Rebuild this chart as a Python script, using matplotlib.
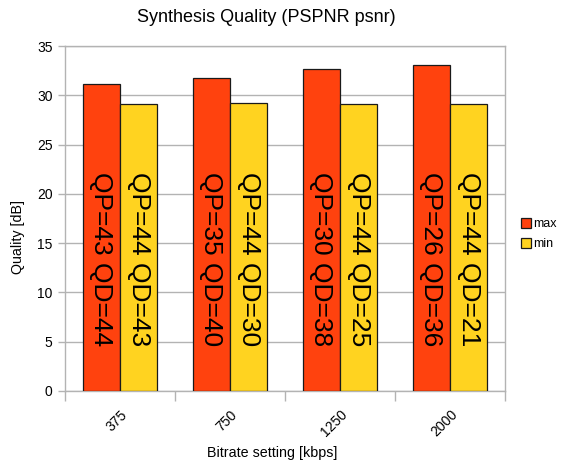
"""Synthesis quality bar chart (PSPNR psnr) per bitrate setting."""

import matplotlib

matplotlib.use("Agg")
import matplotlib.pyplot as plt
import numpy as np

plt.rcParams["font.family"] = ["Liberation Sans", "DejaVu Sans"]

bitrates = ["375", "750", "1250", "2000"]
max_quality = [31.1, 31.8, 32.7, 33.05]
min_quality = [29.1, 29.2, 29.1, 29.1]
max_labels = ["QP=43 QD=44", "QP=35 QD=40", "QP=30 QD=38", "QP=26 QD=36"]
min_labels = ["QP=44 QD=43", "QP=44 QD=30", "QP=44 QD=25", "QP=44 QD=21"]

RED = "#ff420e"
YELLOW = "#ffd320"
GRID = "#b3b3b3"

fig = plt.figure(figsize=(5.67, 4.70), dpi=100)
ax = fig.add_axes([65 / 567, 1 - 391 / 470, 440 / 567, 345 / 470])

x = np.arange(len(bitrates))
width = 0.34
bars_max = ax.bar(x - width / 2, max_quality, width, color=RED,
                  edgecolor="#1a1a1a", linewidth=0.9, label="max", zorder=3)
bars_min = ax.bar(x + width / 2, min_quality, width, color=YELLOW,
                  edgecolor="#1a1a1a", linewidth=0.9, label="min", zorder=3)

for xi, lab in zip(x - width / 2, max_labels):
    ax.text(xi, 13.4, lab, rotation=-90, ha="center", va="center",
            fontsize=19, zorder=4)
for xi, lab in zip(x + width / 2, min_labels):
    ax.text(xi, 13.4, lab, rotation=-90, ha="center", va="center",
            fontsize=19, zorder=4)

ax.set_xlim(-0.5, len(bitrates) - 0.5)
ax.set_ylim(0, 35)
ax.set_yticks(np.arange(0, 36, 5))
ax.yaxis.grid(True, color=GRID, linewidth=1)
ax.set_axisbelow(True)

ax.set_xticks(x)
ax.set_xticklabels(bitrates, rotation=45, ha="right", va="top",
                   rotation_mode="anchor", fontsize=10)
ax.set_xticks(np.arange(-0.5, len(bitrates), 1), minor=True)
ax.tick_params(axis="x", which="major", length=0, pad=12)
ax.tick_params(axis="x", which="minor", length=7, color=GRID, width=1)
ax.tick_params(axis="y", length=5, color=GRID, width=1, labelsize=10, pad=4)

for side in ["left", "right", "bottom", "top"]:
    ax.spines[side].set_color(GRID)
    ax.spines[side].set_linewidth(1)

fig.text(266 / 567, 1 - 17 / 470, "Synthesis Quality (PSPNR psnr)",
         ha="center", va="center", fontsize=13)
fig.text(272 / 567, 1 - 453 / 470, "Bitrate setting [kbps]",
         ha="center", va="center", fontsize=10.3)
fig.text(18 / 567, 1 - 237 / 470, "Quality [dB]", rotation=90,
         ha="center", va="center", fontsize=10.3)

ax.legend(handles=[bars_max, bars_min], loc="upper left",
          bbox_to_anchor=(521 / 567, 1 - 218 / 470),
          bbox_transform=fig.transFigure, frameon=False, fontsize=9,
          handlelength=0.8, handleheight=0.8, handletextpad=0.15,
          labelspacing=0.65, borderpad=0, borderaxespad=0)

fig.savefig("out.png", dpi=100)
